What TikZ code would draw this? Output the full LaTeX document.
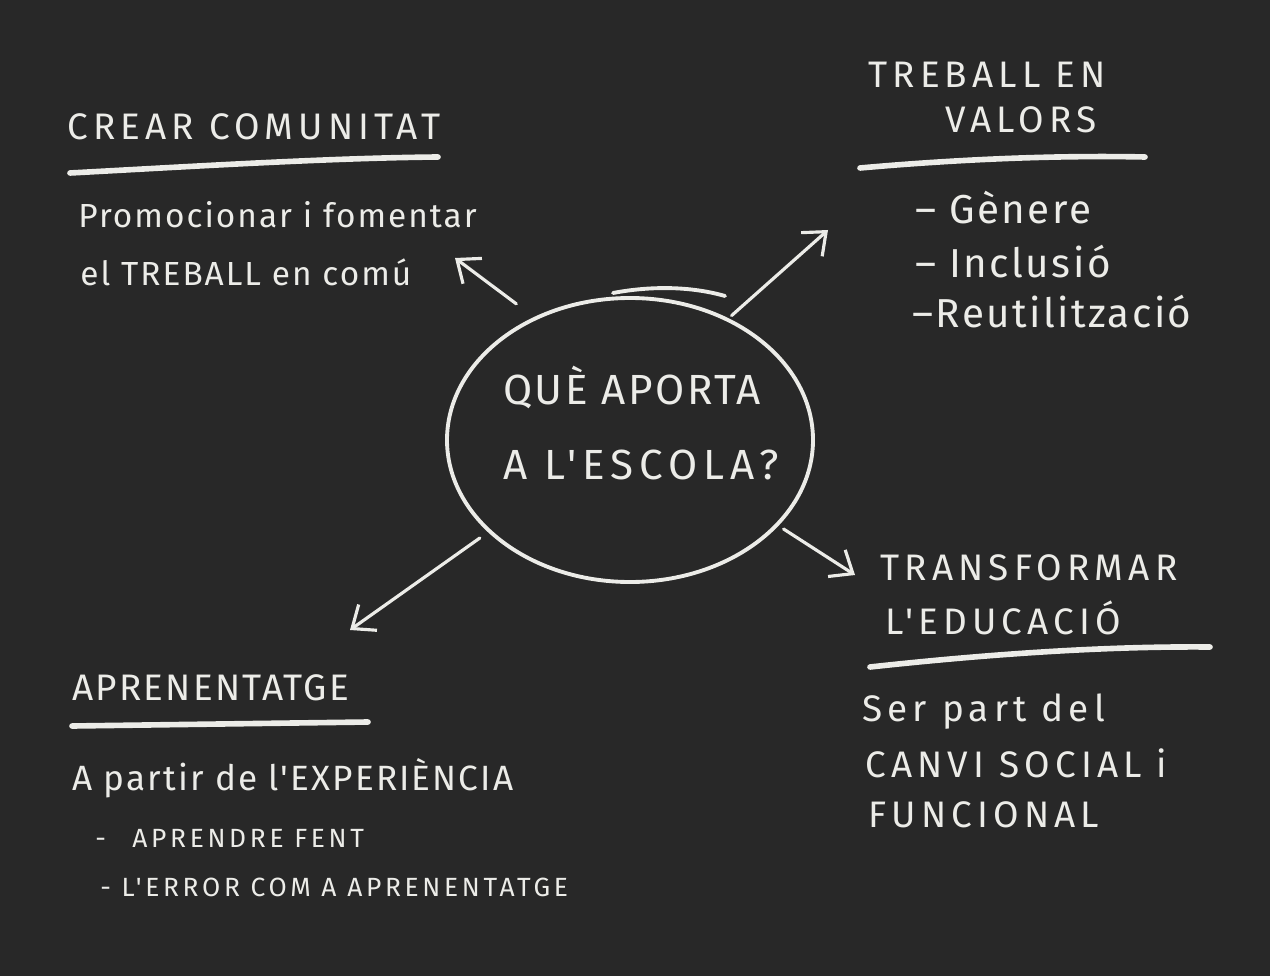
\documentclass[tikz,border=0pt]{standalone}
\usepackage{fontspec}
\usepackage{tikz}
\usetikzlibrary{arrows.meta}
\usetikzlibrary{shapes.geometric}
\newfontfamily\chalkfont[LetterSpace=6]{Fira Sans}
\newfontfamily\chalkwide[LetterSpace=14]{Fira Sans}
\definecolor{board}{RGB}{40,40,40}
\definecolor{chalk}{RGB}{236,236,232}
\tikzset{
  title/.style={anchor=west, text=chalk, font=\chalkwide\fontsize{21}{24}\selectfont, inner sep=0pt},
  body/.style={anchor=west, text=chalk, font=\chalkfont\fontsize{19}{23}\selectfont, inner sep=0pt},
  small/.style={anchor=west, text=chalk, font=\chalkwide\fontsize{15}{18}\selectfont, inner sep=0pt},
  uline/.style={chalk, line width=3.2pt, line cap=round},
  arr/.style={chalk, line width=1.8pt, line cap=round, -{Straight Barb[length=11pt,width=18pt,line width=1.8pt]}}
}
\begin{document}
\begin{tikzpicture}[x=0.02cm,y=-0.02cm]
	\fill[board] (0,0) rectangle (1270,976);
	% centre
	\node[ellipse, draw=chalk, line width=2.2pt, minimum width=366*0.02cm, minimum height=284*0.02cm] (q) at (630,440) {};
	\draw[chalk, line width=2.2pt, line cap=round] (613,293) .. controls (650,286) and (690,286) .. (725,296);
	\node[text=chalk, font=\chalkfont\fontsize{24}{28}\selectfont] (q1) at (632,387) {QUÈ APORTA};
	\node[text=chalk, font=\chalkwide\fontsize{24}{28}\selectfont] (q2) at (641,465) {A L'ESCOLA?};
	% crear comunitat
	\node[title] (crear) at (67,127) {CREAR COMUNITAT};
	\draw[uline] (70,173) .. controls (200,166) and (330,158) .. (438,157);
	\node[body] (crear1) at (78,215) {Promocionar i fomentar};
	\node[body] (crear2) at (80,272) {el TREBALL en comú};
	% treball en valors
	\node[title] (valors1) at (868,75) {TREBALL EN};
	\node[title] (valors2) at (945,120) {VALORS};
	\draw[uline] (860,168) .. controls (950,160) and (1050,155) .. (1145,157);
	\node[body, font=\chalkfont\fontsize{23}{27}\selectfont] (gen) at (915,208) {– Gènere};
	\node[body, font=\chalkfont\fontsize{23}{27}\selectfont] (inc) at (915,262) {– Inclusió};
	\node[body, font=\chalkfont\fontsize{23}{27}\selectfont] (reu) at (912,312) {–Reutilització};
	% transformar
	\node[title] (trans1) at (880,568) {TRANSFORMAR};
	\node[title] (trans2) at (885,618) {L'EDUCACIÓ};
	\draw[uline] (870,667) .. controls (980,655) and (1100,646) .. (1210,647);
	\node[body, font=\chalkwide\fontsize{21}{25}\selectfont] (ser) at (862,712) {Ser part del};
	\node[small, font=\chalkwide\fontsize{21}{24}\selectfont] (canvi) at (865,763) {CANVI SOCIAL i};
	\node[small, font=\chalkwide\fontsize{21}{24}\selectfont] (func) at (868,815) {FUNCIONAL};
	% aprenentatge
	\node[title, font=\chalkfont\fontsize{21}{24}\selectfont] (apren) at (72,688) {APRENENTATGE};
	\draw[uline] (72,726) -- (368,722);
	\node[body, font=\chalkfont\fontsize{20}{24}\selectfont] (exp) at (72,778) {A partir de l'EXPERIÈNCIA};
	\node[small] (fent) at (95,838) {-\quad APRENDRE FENT};
	\node[small] (error) at (100,887) {- L'ERROR COM A APRENENTATGE};
	% fletxes
	\coordinate (t1) at (455,258);
	\coordinate (t2) at (828,230);
	\coordinate (t3) at (855,575);
	\coordinate (t4) at (350,630);
	\draw[arr, shorten <=22*0.02cm] (q.128) -- (t1);
	\draw[arr, shorten <=4*0.02cm] (q.51) -- (t2);
	\draw[arr, shorten <=6*0.02cm] (q.-30) -- (t3);
	\draw[arr, shorten <=10*0.02cm] (q.213) -- (t4);
\end{tikzpicture}
\end{document}
